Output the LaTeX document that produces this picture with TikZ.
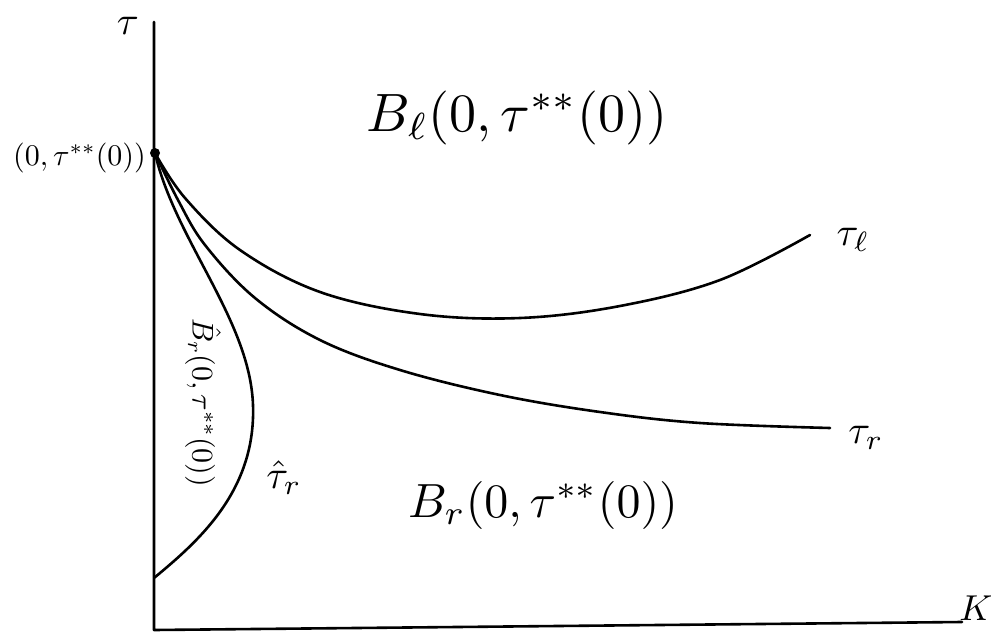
\documentclass[tikz,border=0pt]{standalone}
\usepackage{graphicx}
\begin{document}
\begin{tikzpicture}[x=1pt,y=-1pt,
  pen/.style={line width=2.6pt,line cap=round,line join=round},
  lab/.style={inner sep=0pt},
]
\useasboundingbox (0,0) rectangle (991,632);
% axes
\coordinate (ytop) at (154,22);
\coordinate (orig) at (154,630);
\coordinate (xend) at (962,622);
\draw[pen] (ytop) -- (orig) -- (xend);
\node[lab] (taulab) at (128,26) {\scalebox{4}{$\tau$}};
\node[lab] (klab) at (976,608) {\scalebox{3.6}{$K$}};
% point
\coordinate (p) at (155,153);
\fill (p) circle (5);
\node[lab,anchor=east] (plab) at (146,158) {\scalebox{3}{$(0,\tau^{**}(0))$}};
% curves
\coordinate (tle) at (810,235);
\coordinate (tre) at (830,428);
\coordinate (the) at (154,578);
\coordinate (thm) at (253,405);
\draw[pen] plot[smooth,tension=0.6] coordinates {(p) (185,198) (240,250) (320,292) (420,314) (520,318) (620,306) (720,280) (tle)};
\draw[pen] plot[smooth,tension=0.6] coordinates {(p) (178,200) (205,245) (255,298) (320,340) (400,370) (500,395) (600,412) (700,423) (tre)};
\draw[pen] (p) .. controls (175,240) and (250,320) .. (thm) .. controls (256,490) and (200,540) .. (the);
% labels
\node[lab] (tl) at (853,240) {\scalebox{4}{$\tau_\ell$}};
\node[lab] (tr) at (866,438) {\scalebox{4}{$\tau_r$}};
\node[lab] (thr) at (284,478) {\scalebox{4}{$\hat\tau_r$}};
\node[lab] (bl) at (517,118) {\scalebox{5.4}{$B_\ell(0,\tau^{**}(0))$}};
\node[lab] (br) at (543,505) {\scalebox{4.8}{$B_r(0,\tau^{**}(0))$}};
\node[lab,rotate=-90] (bhr) at (203,403) {\scalebox{3}{$\hat B_r(0,\tau^{**}(0))$}};
\end{tikzpicture}
\end{document}
